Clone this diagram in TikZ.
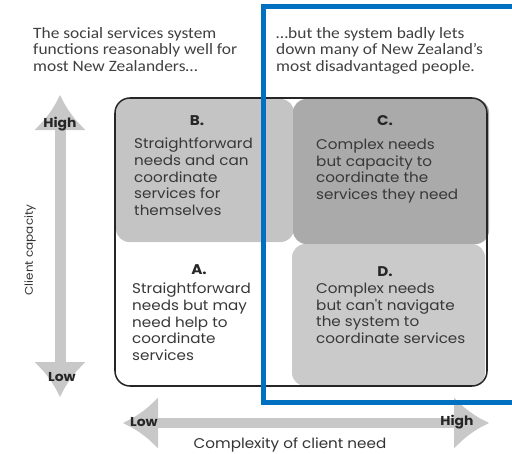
\documentclass[tikz,border=0pt]{standalone}
\usepackage{fontspec}
\setmainfont{Carlito}[FakeStretch=1.1]
\newfontfamily\quadfont{Poppins}[FakeStretch=1.08]
\usepackage{tikz}
\usetikzlibrary{arrows.meta,positioning}
\definecolor{frameblue}{RGB}{0,112,192}
\definecolor{arrowgrey}{RGB}{200,200,200}
\definecolor{quadB}{RGB}{196,196,196}
\definecolor{quadC}{RGB}{170,170,170}
\definecolor{quadD}{RGB}{202,202,202}
\tikzset{
  headtext/.style={anchor=north west, inner sep=0pt, align=left, text=black!75,
    font=\fontsize{13.5}{14.1}\selectfont},
  quadlabel/.style={font=\quadfont\bfseries\fontsize{12}{14}\selectfont, text=black!85},
  quadtext/.style={anchor=north west, inner sep=0pt, align=left, text=black!78,
    font=\quadfont\fontsize{12}{14.1}\selectfont},
  axisarrow/.style={draw=arrowgrey, line width=0.33cm,
    {Latex[width=1.6cm,length=1.05cm]}-{Latex[width=1.6cm,length=1.05cm]}},
  axisend/.style={font=\quadfont\bfseries\fontsize{11}{12}\selectfont, text=black!85},
  axisname/.style={font=\quadfont\fontsize{12}{13}\selectfont, text=black!80}
}
\begin{document}
\begin{tikzpicture}[x=0.03cm, y=-0.03cm]
\useasboundingbox (0,0) rectangle (512,453);
% quadrant shading
\fill[quadB, rounded corners=0.4cm] (116,99) rectangle (294,242);
\fill[quadC, rounded corners=0.4cm] (293,99) rectangle (489,244);
\fill[quadD, rounded corners=0.4cm] (292,244) rectangle (485,386);
\draw[line width=1.3pt, black!85, rounded corners=0.45cm] (115,98) rectangle (487,386);
% quadrant texts
\node[quadlabel] (Blab) at (197,121) {B.};
\node[quadtext] (B) at (134,138) {Straightforward\\needs and can\\coordinate\\services for\\themselves};
\node[quadlabel] (Clab) at (385,121) {C.};
\node[quadtext] (C) at (316,139) {Complex needs\\but capacity to\\coordinate the\\services they need};
\node[quadlabel] (Alab) at (199,270) {A.};
\node[quadtext] (A) at (132,283) {Straightforward\\needs but may\\need help to\\coordinate\\services};
\node[quadlabel] (Dlab) at (385,272) {D.};
\node[quadtext] (D) at (316,283) {Complex needs\\but can't navigate\\the system to\\coordinate services};
% axes
\coordinate (capHigh) at (60,95);
\coordinate (capLow) at (60,397);
\draw[axisarrow] (capLow) -- (capHigh);
\node[axisend] (high1) at (60,124) {High};
\node[axisend] (low1) at (62,377) {Low};
\node[axisname, font=\quadfont\fontsize{9.5}{11}\selectfont, rotate=90] (capacity) at (30,250) {Client capacity};
\coordinate (needLow) at (123,423);
\coordinate (needHigh) at (489,423);
\draw[axisarrow, line width=0.3cm] (needLow) -- (needHigh);
\node[axisend] (low2) at (144,422) {Low};
\node[axisend] (high2) at (457,422) {High};
\node[axisname] (complexity) at (290,445) {Complexity of client need};
% headings and frame
\node[headtext] (left) at (33,27) {The social services system\\functions reasonably well for\\most New Zealanders…};
\node[headtext] (right) at (276,27) {…but the system badly lets\\down many of New Zealand’s\\most disadvantaged people.};
\draw[frameblue, line width=0.15cm] (525,7) -- (263,7) -- (263,402) -- (525,402);
\end{tikzpicture}
\end{document}
